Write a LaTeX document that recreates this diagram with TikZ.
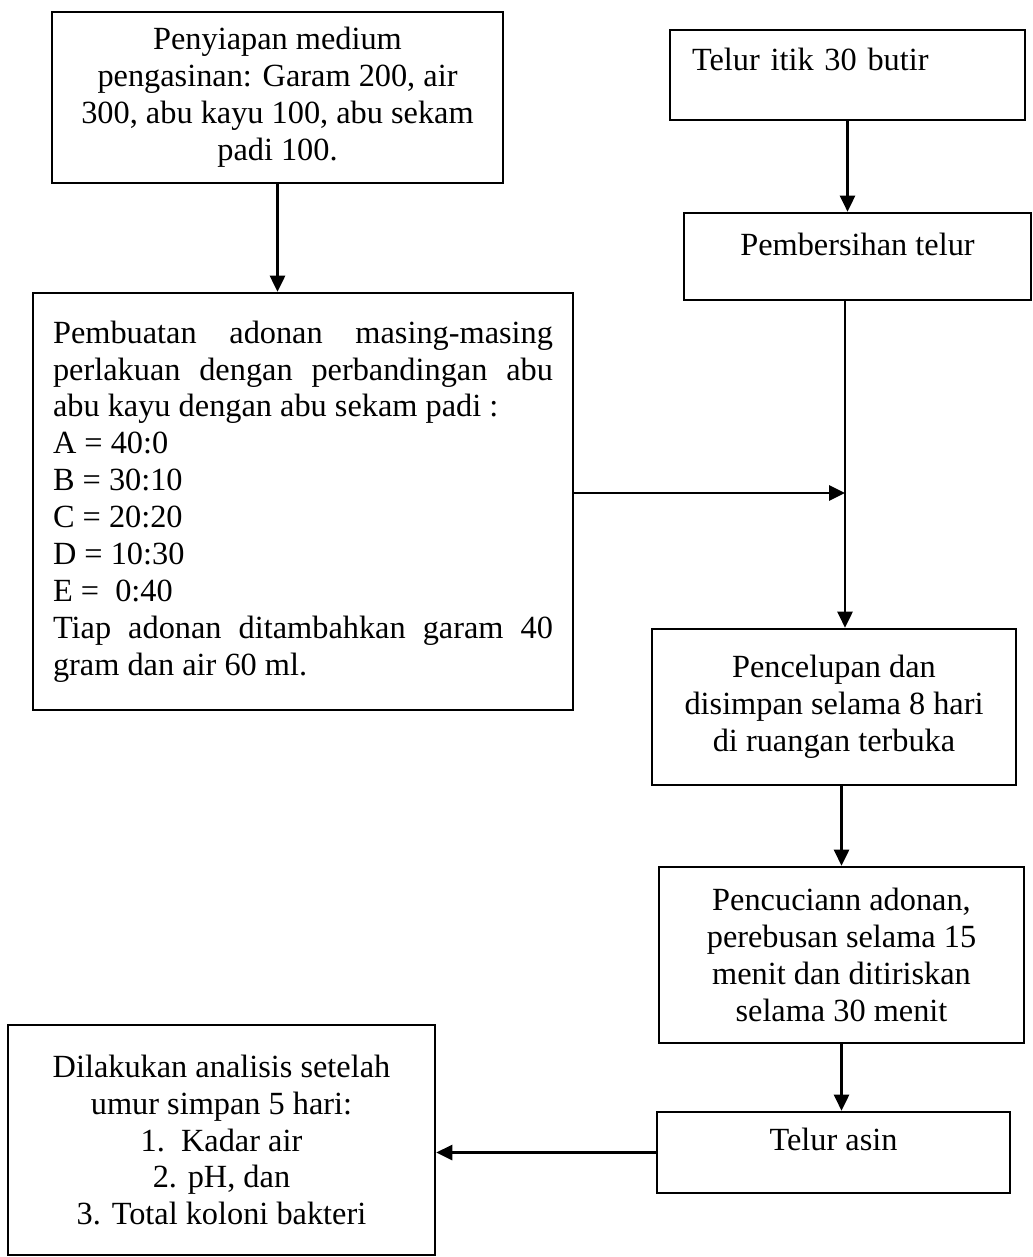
\documentclass[tikz,border=0pt]{standalone}
\usepackage{fontspec}
\setmainfont{Liberation Serif}
\usetikzlibrary{arrows.meta}

\begin{document}
\begin{tikzpicture}[x=0.02cm,y=-0.02cm,
	box/.style={rectangle,draw,line width=1.5pt,inner sep=0mm,font=\fontsize{18.4}{21}\selectfont},
	flow/.style={-{Triangle[length=3.2mm,width=3mm]},line width=1.5pt}]
					\useasboundingbox (0,0) rectangle (1033,1257);
					\node (medium)   at (277.5,  97.5) [box,minimum width=9.02cm,minimum height=3.42cm,align=center] {Penyiapan medium\\ pengasinan: Garam 200, air\\ 300, abu kayu 100, abu sekam\\ padi 100.};
					\node (telur)    at (847.5,    75) [box,minimum width=7.1cm,minimum height=1.8cm,text width=6.22cm,align=left,text height=0.8cm,text depth=1.0cm] {Telur itik 30 butir};
					\node (bersih)   at (857.5, 256.5) [box,minimum width=6.94cm,minimum height=1.74cm,text height=0.84cm,text depth=0.9cm] {Pembersihan telur};
					\node (adonan)   at (  303, 501.5) [box,minimum width=10.8cm,minimum height=8.34cm,text width=10cm,align=justify] {Pembuatan adonan masing-masing\linebreak perlakuan dengan perbandingan abu\linebreak abu kayu dengan abu sekam padi :\\ A = 40:0\\ B = 30:10\\ C = 20:20\\ D = 10:30\\ E =\ \ 0:40\\ Tiap adonan ditambahkan garam 40\linebreak gram dan air 60 ml.};
					\node (celup)    at (  834,   707) [box,minimum width=7.28cm,minimum height=3.12cm,align=center] {Pencelupan dan\\ disimpan selama 8 hari\\ di ruangan terbuka};
					\node (cuci)     at (841.5,   955) [box,minimum width=7.3cm,minimum height=3.52cm,align=center] {Pencuciann adonan,\\ perebusan selama 15\\ menit dan ditiriskan\\ selama 30 menit};
					\node (asin)     at (833.5,1152.5) [box,minimum width=7.06cm,minimum height=1.62cm,text height=0.76cm,text depth=0.86cm] {Telur asin};
					\node (analisis) at (221.5,  1140) [box,minimum width=8.54cm,minimum height=4.6cm,align=center] {Dilakukan analisis setelah\\ umur simpan 5 hari:\\ 1.\ \ Kadar air\\ 2. pH, dan\\ 3. Total koloni bakteri};
					\coordinate (join) at (845,493);
					\draw [flow] (medium.south) -- (medium.south |- adonan.north);
					\draw [flow] (telur.south) -- (telur.south |- bersih.north);
					\draw [flow] (bersih.south -| join) -- (join |- celup.north);
					\draw [flow] (adonan.east |- join) -- (join);
					\draw [flow] (cuci.north |- celup.south) -- (cuci.north);
					\draw [flow] (cuci.south) -- (cuci.south |- asin.north);
					\draw [flow] (asin.west) -- (asin.west -| analisis.east);
				\end{tikzpicture}
\end{document}
